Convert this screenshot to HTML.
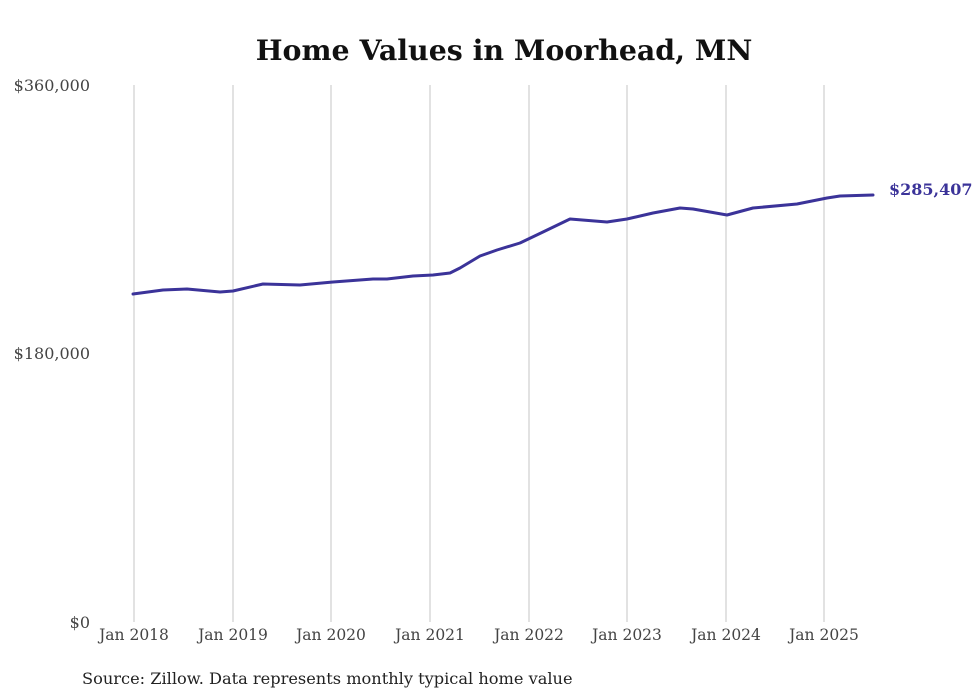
<!DOCTYPE html>
<html><head><meta charset="utf-8"><style>
body{margin:0;background:#fff;}
svg{display:block;font-family:"DejaVu Serif","Liberation Serif",serif;}
</style></head><body>
<svg width="980" height="699" viewBox="0 0 980 699" xmlns="http://www.w3.org/2000/svg">
<rect width="980" height="699" fill="#fff"/>
<text x="504" y="60" text-anchor="middle" font-size="28.4" font-weight="bold" fill="#111">Home Values in Moorhead, MN</text>
<g stroke="#c4c4c4" stroke-width="1">
<line x1="134" y1="85" x2="134" y2="622"/><line x1="233" y1="85" x2="233" y2="622"/>
<line x1="331" y1="85" x2="331" y2="622"/><line x1="430" y1="85" x2="430" y2="622"/>
<line x1="529" y1="85" x2="529" y2="622"/><line x1="627" y1="85" x2="627" y2="622"/>
<line x1="726" y1="85" x2="726" y2="622"/><line x1="824" y1="85" x2="824" y2="622"/>
</g>
<g font-size="16" fill="#444" text-anchor="end">
<text x="90" y="91">$360,000</text><text x="90" y="359">$180,000</text><text x="90" y="628">$0</text>
</g>
<g font-size="15.5" fill="#444" text-anchor="middle">
<text x="134" y="640">Jan 2018</text><text x="233" y="640">Jan 2019</text><text x="331" y="640">Jan 2020</text>
<text x="430" y="640">Jan 2021</text><text x="529" y="640">Jan 2022</text><text x="627" y="640">Jan 2023</text>
<text x="726" y="640">Jan 2024</text><text x="824" y="640">Jan 2025</text>
</g>
<polyline fill="none" stroke="#3b3399" stroke-width="3" stroke-linejoin="round" stroke-linecap="round"
points="133,294 163,290 187,289 220,292 233,291 263,284 300,285 333,282 373,279 387,279 413,276 433,275 450,273 460,268 480,256 497,250 520,243 543,232 570,219 607,222 627,219 653,213 680,208 693,209 727,215 753,208 797,204 827,198 840,196 873,195"/>
<text x="889" y="195" font-size="16" font-weight="bold" fill="#3b3399">$285,407</text>
<text x="82" y="684" font-size="16.2" fill="#222">Source: Zillow. Data represents monthly typical home value</text>
</svg>
</body></html>
